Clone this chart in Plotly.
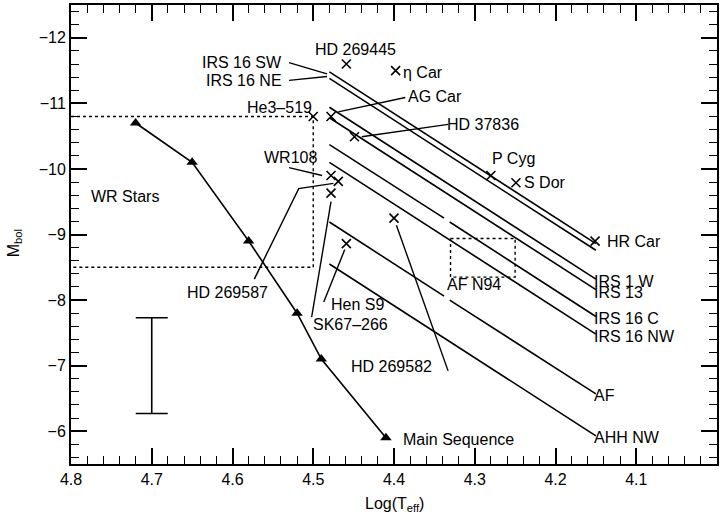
import plotly.graph_objects as go

FONT = "Liberation Sans, Arial, Helvetica, sans-serif"

# ---- Main sequence ----
ms_logt = [4.72, 4.65, 4.58, 4.52, 4.49, 4.41]
ms_mbol = [-10.7, -10.1, -8.9, -7.8, -7.1, -5.9]

# ---- Error bar ----
err_logt = [4.70]
err_mbol = [-7.0]
err_size = [0.73]

# ---- WR stars region (dotted) ----
wr_box_logt = [4.8, 4.5, 4.5, 4.8]
wr_box_mbol = [-10.8, -10.8, -8.5, -8.5]

# ---- AF N94 box (dotted) ----
afn_box_logt = [4.33, 4.25, 4.25, 4.33, 4.33]
afn_box_mbol = [-8.94, -8.94, -8.35, -8.35, -8.94]

# ---- Tracks: name, list of segments [(T0, M0, T1, M1), ...] ----
track_names = ["IRS 16 SW", "IRS 16 NE", "IRS 1 W", "IRS 13", "IRS 16 C",
               "IRS 16 NW", "AF", "AHH NW"]
track_segments = [
    [(4.48, -11.48, 4.15, -8.86)],
    [(4.48, -11.38, 4.15, -8.76)],
    [(4.48, -10.94, 4.15, -8.32)],
    [(4.48, -10.78, 4.15, -8.16)],
    [(4.48, -10.37, 4.338, -9.25), (4.331, -9.19, 4.15, -7.75)],
    [(4.48, -10.10, 4.15, -7.48)],
    [(4.48, -9.19, 4.338, -8.06), (4.331, -8.00, 4.15, -6.57)],
    [(4.48, -8.55, 4.15, -5.93)],
]

# ---- Individual stars (x markers) ----
star_names = ["HD 269445", "η Car", "He3-519", "AG Car", "HD 37836", "P Cyg",
              "S Dor", "HR Car", "WR108", "HD 269587", "SK67-266", "Hen S9",
              "HD 269582"]
star_logt = [4.459, 4.398, 4.50, 4.478, 4.449, 4.280, 4.249, 4.151,
             4.478, 4.469, 4.478, 4.459, 4.400]
star_mbol = [-11.60, -11.50, -10.80, -10.80, -10.49, -9.90, -9.79, -8.90,
             -9.90, -9.81, -9.63, -8.86, -9.25]

# ---- Leader lines (polylines) ----
leader_logt = [
    [4.530, 4.483],          # IRS 16 SW
    [4.530, 4.483],          # IRS 16 NE
    [4.386, 4.469],          # AG Car
    [4.333, 4.440],          # HD 37836
    [4.530, 4.489],          # WR108
    [4.573, 4.518, 4.475],   # HD 269587
    [4.502, 4.478],          # SK67-266
    [4.487, 4.461],          # Hen S9
    [4.397, 4.333],          # HD 269582
]
leader_mbol = [
    [-11.62, -11.45],
    [-11.35, -11.41],
    [-11.09, -10.87],
    [-10.68, -10.49],
    [-10.02, -9.90],
    [-8.32, -9.70, -9.78],
    [-7.74, -9.50],
    [-7.97, -8.77],
    [-9.14, -6.92],
]

# ---- Text labels: text, logT, Mbol, xanchor ----
label_text = ["HD 269445", "η Car", "AG Car", "HD 37836", "P Cyg", "S Dor",
              "HR Car", "IRS 16 SW", "IRS 16 NE", "He3\u2013519", "WR108",
              "WR Stars", "HD 269587", "Hen S9", "SK67\u2013266", "HD 269582",
              "Main Sequence", "AF N94", "IRS 1 W", "IRS 13", "IRS 16 C",
              "IRS 16 NW", "AF", "AHH NW"]
label_logt = [4.448, 4.390, 4.384, 4.335, 4.280, 4.240,
              4.138, 4.537, 4.537, 4.500, 4.494,
              4.777, 4.658, 4.479, 4.501, 4.352,
              4.390, 4.336, 4.153, 4.153, 4.153,
              4.153, 4.153, 4.153]
label_mbol = [-11.82, -11.47, -11.10, -10.68, -10.16, -9.79,
              -8.90, -11.62, -11.35, -10.93, -10.17,
              -9.58, -8.12, -7.94, -7.62, -6.98,
              -5.88, -8.24, -8.29, -8.12, -7.72,
              -7.45, -6.54, -5.91]
label_anchor = ["center", "left", "left", "left", "left", "left",
                "left", "right", "right", "right", "right",
                "left", "left", "left", "left", "right",
                "left", "left", "left", "left", "left",
                "left", "left", "left"]

fig = go.Figure()

LW = 1.6

# tracks
for segs in track_segments:
    xs, ys = [], []
    for (t0, m0, t1, m1) in segs:
        xs += [t0, t1, None]
        ys += [m0, m1, None]
    fig.add_trace(go.Scatter(x=xs, y=ys, mode="lines",
                             line=dict(color="black", width=LW),
                             showlegend=False, hoverinfo="skip"))

# leader lines
for lx, ly in zip(leader_logt, leader_mbol):
    fig.add_trace(go.Scatter(x=lx, y=ly, mode="lines",
                             line=dict(color="black", width=1.4),
                             showlegend=False, hoverinfo="skip"))

# dotted boxes
fig.add_trace(go.Scatter(x=wr_box_logt, y=wr_box_mbol, mode="lines",
                         line=dict(color="black", width=1.4, dash="dot"),
                         showlegend=False, hoverinfo="skip"))
fig.add_trace(go.Scatter(x=afn_box_logt, y=afn_box_mbol, mode="lines",
                         line=dict(color="black", width=1.4, dash="dot"),
                         showlegend=False, hoverinfo="skip"))

# main sequence
fig.add_trace(go.Scatter(x=ms_logt, y=ms_mbol, mode="lines+markers",
                         line=dict(color="black", width=LW),
                         marker=dict(symbol="triangle-up", size=10, color="black"),
                         showlegend=False))

# error bar
fig.add_trace(go.Scatter(x=err_logt, y=err_mbol, mode="markers",
                         marker=dict(size=1, color="rgba(0,0,0,0)"),
                         error_y=dict(type="data", array=err_size, visible=True,
                                      color="black", thickness=1.6, width=16),
                         showlegend=False))

# stars
fig.add_trace(go.Scatter(x=star_logt, y=star_mbol, mode="markers",
                         marker=dict(symbol="x-thin", size=9,
                                     line=dict(color="black", width=1.6)),
                         text=star_names, showlegend=False))

for t, x, y, a in zip(label_text, label_logt, label_mbol, label_anchor):
    fig.add_annotation(x=x, y=y, text=t, showarrow=False, xanchor=a,
                       yanchor="middle", font=dict(family=FONT, size=16, color="black"),
                       borderpad=0)

# axis titles
fig.add_annotation(xref="paper", yref="paper", x=0.5, y=-0.089,
                   text="Log(T<sub>eff</sub>)", showarrow=False,
                   xanchor="center", yanchor="middle",
                   font=dict(family=FONT, size=16, color="black"))
fig.add_annotation(xref="paper", yref="paper", x=-0.088, y=0.481,
                   text="M<sub>bol</sub>", showarrow=False, textangle=-90,
                   xanchor="center", yanchor="middle",
                   font=dict(family=FONT, size=16, color="black"))

axis_common = dict(showline=True, linewidth=2, linecolor="black", mirror="allticks",
                   ticks="inside", ticklen=16, tickwidth=1.5, tickcolor="black",
                   showgrid=False, zeroline=False,
                   tickfont=dict(family=FONT, size=16, color="black"))

fig.update_xaxes(range=[4.8, 4.0], tick0=4.0, dtick=0.1, tickformat=".1f",
                 minor=dict(ticks="inside", ticklen=8, tickwidth=1.3,
                            tickcolor="black", dtick=0.02, showgrid=False),
                 **axis_common)
fig.update_yaxes(range=[-5.5, -12.5], tick0=-12, dtick=1,
                 minor=dict(ticks="inside", ticklen=8, tickwidth=1.3,
                            tickcolor="black", dtick=0.2, showgrid=False),
                 **axis_common)

fig.update_layout(width=720, height=519,
                  margin=dict(l=71, r=1, t=5, b=55),
                  plot_bgcolor="white", paper_bgcolor="white",
                  font=dict(family=FONT, color="black"))

fig.write_html("out.html",
               config={"displayModeBar": False},
               post_script="document.body.style.margin='0px';"
                           "document.body.style.overflow='hidden';")
